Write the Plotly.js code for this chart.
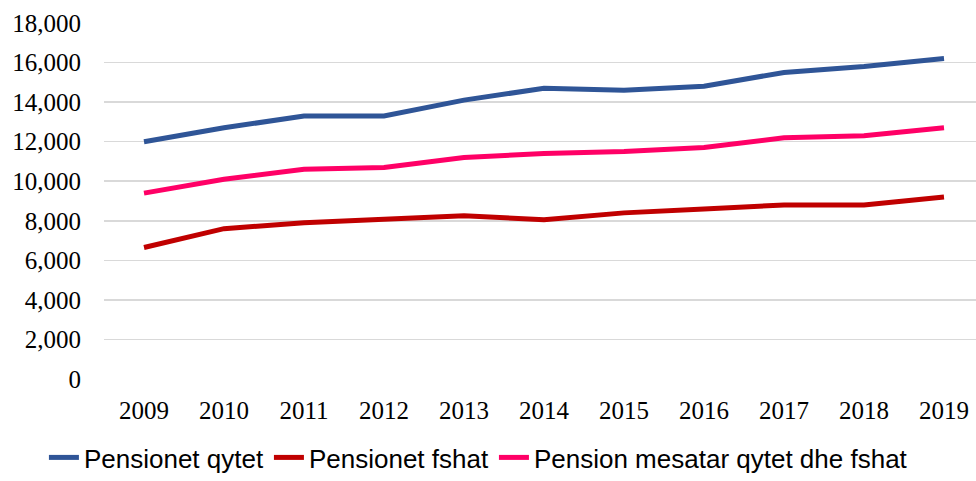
<!DOCTYPE html>
<html>
<head>
<meta charset="utf-8">
<script src="https://cdn.plot.ly/plotly-3.0.1.min.js"></script>
<style>html,body{margin:0;padding:0;background:#fff;}#chart{width:976px;height:481px;}</style>
</head>
<body>
<div id="chart"></div>
<script>
const years = ["2009","2010","2011","2012","2013","2014","2015","2016","2017","2018","2019"];
const pensionetQytet = [12000, 12700, 13300, 13300, 14100, 14700, 14600, 14800, 15500, 15800, 16200];
const pensionetFshat = [6650, 7600, 7900, 8050, 8250, 8050, 8400, 8600, 8800, 8800, 9200];
const pensionMesatar = [9400, 10100, 10600, 10700, 11200, 11400, 11500, 11700, 12200, 12300, 12700];
const seriesNames = ["Pensionet qytet", "Pensionet fshat", "Pension mesatar qytet dhe fshat"];
const yTicks = [0, 2000, 4000, 6000, 8000, 10000, 12000, 14000, 16000, 18000];

const mk = (y, name, color) => ({
  x: years, y: y, name: name, type: 'scatter', mode: 'lines',
  line: {color: color, width: 5}, hoverinfo: 'skip'
});

const data = [
  mk(pensionetQytet, seriesNames[0], '#2f5597'),
  mk(pensionetFshat, seriesNames[1], '#c00000'),
  mk(pensionMesatar, seriesNames[2], '#ff0066')
];

const layout = {
  width: 976, height: 481,
  margin: {l: 104, r: 0, t: 23, b: 102},
  paper_bgcolor: '#ffffff', plot_bgcolor: '#ffffff',
  showlegend: true,
  legend: {
    orientation: 'h', xref: 'container', yref: 'container',
    x: 0.045, xanchor: 'left', y: -0.022, yanchor: 'bottom',
    font: {family: 'Liberation Sans, Arial, sans-serif', size: 26, color: '#000'},
    itemwidth: 30, tracegroupgap: 0
  },
  xaxis: {
    type: 'category', range: [-0.5, 10.4],
    showgrid: false, zeroline: false, showline: false, ticks: '',
    tickfont: {family: 'Liberation Serif, Times New Roman, serif', size: 25, color: '#000'},
    ticklabelstandoff: 14, fixedrange: true
  },
  yaxis: {
    range: [0, 18000], tickvals: yTicks,
    tickformat: ',d', showgrid: true, gridcolor: '#d9d9d9', gridwidth: 1.5,
    zeroline: false, showline: false, ticks: '',
    tickfont: {family: 'Liberation Serif, Times New Roman, serif', size: 25, color: '#000'},
    ticklabelstandoff: 22, fixedrange: true
  }
};

Plotly.newPlot('chart', data, layout, {displayModeBar: false, staticPlot: true});
</script>
</body>
</html>
